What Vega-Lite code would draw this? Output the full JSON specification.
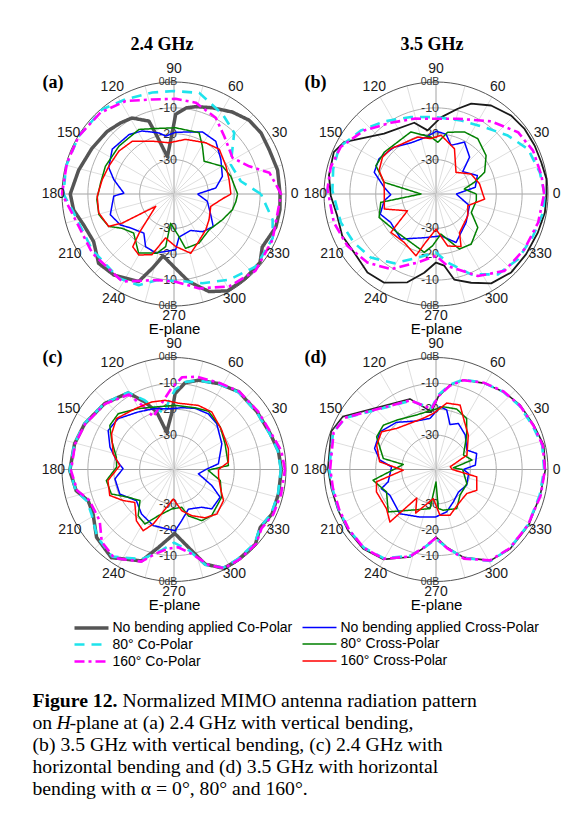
{
"$schema":"https://vega.github.io/schema/vega-lite/v6.json",
"background":"white",
"padding":{"left":32,"top":36,"right":0,"bottom":10},
"datasets":{
"spokes":[{"ang":0},{"ang":15},{"ang":30},{"ang":45},{"ang":60},{"ang":75},{"ang":90},{"ang":105},{"ang":120},{"ang":135},{"ang":150},{"ang":165},{"ang":180},{"ang":195},{"ang":210},{"ang":225},{"ang":240},{"ang":255},{"ang":270},{"ang":285},{"ang":300},{"ang":315},{"ang":330},{"ang":345}],
"rings":[{"db":0,"ang":[0,15,30,45,60,75,90,105,120,135,150,165,180,195,210,225,240,255,270,285,300,315,330,345]},{"db":-10,"ang":[0,15,30,45,60,75,90,105,120,135,150,165,180,195,210,225,240,255,270,285,300,315,330,345]},{"db":-20,"ang":[0,15,30,45,60,75,90,105,120,135,150,165,180,195,210,225,240,255,270,285,300,315,330,345]},{"db":-30,"ang":[0,15,30,45,60,75,90,105,120,135,150,165,180,195,210,225,240,255,270,285,300,315,330,345]}],
"radial":[{"db":0,"t":"0dB"},{"db":-10,"t":"-10"},{"db":-20,"t":"-20"},{"db":-30,"t":"-30"}],
"angles":[{"ang":0,"t":"0"},{"ang":30,"t":"30"},{"ang":60,"t":"60"},{"ang":90,"t":"90"},{"ang":120,"t":"120"},{"ang":150,"t":"150"},{"ang":180,"t":"180"},{"ang":210,"t":"210"},{"ang":240,"t":"240"},{"ang":270,"t":"270"},{"ang":300,"t":"300"},{"ang":330,"t":"330"}],
"series":[
{"p":"a","s":"No bending applied Co-Polar","ang":[0,13,25,35,44.5,54.5,66,76,82,88.8,91,100,107,109,119,127,137,151,166,180,189,199,210.6,222.6,233.4,248,253.7,260,271,279.7,289.8,299,310,321.5,329,342,351.6,360],"db":[-2.3,-2.2,-2.7,-2.2,-2.6,-4.4,-6.8,-8.5,-9.7,-12.5,-18.3,-28.7,-18.6,-13.5,-9.7,-8.9,-7.9,-7,-5.3,-3.2,-4,-6.4,-7.2,-3.7,-4.3,-6.8,-13.4,-19,-14.6,-8.9,-3.2,-0.5,-0.6,-0.8,-3.5,-1.9,-1.9,-2.3]},
{"p":"a","s":"80° Co-Polar","ang":[0,10.8,27.4,45.5,58.6,76,90,102,117,130.4,149,165.7,180,190.8,214.3,236.8,248.9,259,277.6,287.7,302.7,318.5,335.9,345.4,360],"db":[-9.7,-17,-18.6,-10.1,-7.2,-3,-3.5,-3.2,-2.2,-0.4,-0.2,-0.2,-0.6,-3.9,-5,-4.4,-5.5,-9.4,-9.2,-7.1,-3.9,-1,-1.5,-3.9,-9.7]},
{"p":"a","s":"160° Co-Polar","ang":[0,12.5,20.2,31.7,49,61.3,76.6,89,103,117.5,132,148.7,163.8,180,190.6,215.8,239.4,259,271,285,300.8,316.6,335,349.6,360],"db":[-1.9,-5.5,-12.3,-16.7,-13.7,-9.7,-7,-6.5,-5.8,-2.8,-0.9,-0.2,-0.2,0,-3.2,-4.3,-4,-9.4,-9.4,-5.5,-1.7,0,-1.3,-2.6,-1.9]},
{"p":"a","s":"No bending applied Cross-Polar","ang":[0,8.2,20,36.3,51.6,65.4,88.5,98,103.8,116.8,127,144,158,166.6,179,182,198,210,218,232.4,241.6,252.7,271.7,276.6,294.6,307.2,320.3,330.6,347.6,360],"db":[-34.2,-27,-23.4,-20.8,-17.3,-16.9,-19.4,-20.7,-19,-16,-14.5,-13.8,-16.1,-19.4,-23.9,-20,-17.4,-19.4,-22,-24.2,-20.2,-19.4,-21.7,-26.5,-27.8,-25,-23.6,-27,-30.1,-34.2]},
{"p":"a","s":"80° Cross-Polar","ang":[0,17.3,29.8,47.4,59.3,67.7,88.6,105.7,118.5,139,158,171.5,184,195.4,206.4,213.3,224,239,254,261,263.4,276.7,282,297,314.5,332,345,353,360],"db":[-18.7,-20.3,-21.7,-26.1,-21.8,-17.7,-17.7,-17,-14.9,-15.1,-14.7,-14.6,-13.4,-13.2,-15.1,-19.2,-21.6,-16.7,-19.5,-22.7,-31.9,-26.7,-21.8,-22,-23.9,-22.1,-19.9,-19.2,-18.7]},
{"p":"a","s":"160° Cross-Polar","ang":[0,14.6,28.2,44.6,58.2,77.9,95.6,112.4,128.4,142,157,168.7,181.7,194,206.4,209.3,214,228,232,240,250,259,271.8,285.8,295.5,311.6,323.7,341.4,354.5,360],"db":[-21.3,-21.3,-20.5,-18.7,-20,-21.7,-23.4,-21.2,-17.3,-16.3,-15.9,-15,-13.6,-13.3,-15.1,-20.3,-34.8,-23.4,-17.4,-16.1,-18.3,-26,-23,-19.5,-22.2,-24.8,-26.5,-28.3,-24.4,-21.3]},
{"p":"b","s":"No bending applied Co-Polar","ang":[0,7.8,16.8,26.2,36.3,46.2,58.1,68.7,75.7,86.3,97.5,107,130.7,150.6,157.7,170,181,192.4,204,215.5,228.9,239.7,252,261.5,270,276.6,282,291.6,301.7,313.8,326.3,339.3,350.4,360],"db":[-0.6,-0.2,-0.8,-0.8,-0.8,-1.3,-3,-5.8,-9.3,-13.6,-18.5,-14.5,-12.5,-2.5,-0.6,-1.3,-2.6,-4.2,-3.6,-4.4,-3,-3.6,-7.4,-12.5,-16.8,-15.4,-9.5,-6.4,-2.7,-1.3,-1.4,-1.2,-0.6,-0.6]},
{"p":"b","s":"80° Co-Polar","ang":[0,11.8,26,39.1,54,71.2,90,108,125.5,139.8,154.2,166.3,178,196.6,210.6,224.3,238.9,253.9,270,279.7,293.6,307.6,321.5,336.7,350.2,360],"db":[-1.3,-2.3,-3.7,-7.5,-11.4,-13.3,-13.6,-12,-8.8,-5.3,-1.7,-2.4,-3.2,-4.9,-6.4,-8.1,-12,-17.7,-20.7,-16.4,-9.4,-4.1,-2.8,-2.4,-1.3,-1.3]},
{"p":"b","s":"160° Co-Polar","ang":[0,9.9,24.1,37,52.7,73.9,90,106,122.4,138.5,153.8,165.7,177.4,195.6,210.3,225,239,255,270,279.2,297,311.7,328,344.4,360],"db":[-1.5,-1.9,-2.2,-3.6,-8,-13,-14.2,-13,-10.7,-6.2,-2.2,-1.3,-1.3,-2.3,-3.6,-5.8,-9.4,-15.9,-19.4,-15.1,-7.7,-3.5,-3,-2.3,-1.5]},
{"p":"b","s":"No bending applied Cross-Polar","ang":[0,9.7,24,40,47.7,61.3,72.8,80.5,90,100,116,131.8,148.3,160.6,172.6,181,187.4,199.8,212,232,255,276.8,292.5,316.6,340.7,360],"db":[-35.5,-27.9,-25.8,-29.8,-24,-20.4,-23.6,-19.8,-19.1,-21,-21.3,-19,-17.4,-18,-23.1,-25.8,-23.1,-20.4,-22.6,-21.2,-25.8,-27,-23,-27.3,-29.6,-35.5]},
{"p":"b","s":"80° Cross-Polar","ang":[0,10,17,24.1,37.5,52.9,65.3,79.3,88,95,112,141,154.7,167.3,180,188.6,202.4,225,242.6,258.7,266.3,277,293,305,321.3,332.4,350.5,360],"db":[-27.7,-32.2,-27.8,-22.7,-18.9,-16.5,-16.9,-19,-23.3,-21.2,-17.4,-17.6,-17.6,-22.7,-37.5,-21.7,-19.5,-22.2,-22.2,-20.3,-23.3,-27.7,-20.2,-19.6,-22.6,-27.9,-27.5,-27.7]},
{"p":"b","s":"160° Cross-Polar","ang":[0,13,29.7,47.3,67.8,85,95.2,108,135,145.5,157.6,167.3,178,196.2,210.5,220.4,236.8,252,256.9,270,282.7,295.5,301.3,325.6,339.8,354,360],"db":[-25.2,-26,-27.7,-31.9,-24.4,-20.5,-21.8,-20.2,-18.6,-18.2,-19.5,-22.7,-23.3,-22.5,-30.5,-20.4,-20.9,-18.2,-23.4,-29.7,-22.7,-20.8,-25.8,-28.4,-30.2,-24.4,-25.2]},
{"p":"c","s":"No bending applied Co-Polar","ang":[0,10,20.4,34.7,50.2,62.6,74.7,82.7,89.2,92.4,101.1,106.8,113.3,120.9,136.4,152.8,165.5,180.6,192.2,200,208.8,221.2,234.6,250.4,258.6,270.6,280.5,288.2,296.8,305.6,317.5,326,335.6,346.9,360],"db":[-1.8,-2.3,-3.6,-4.2,-4.2,-5.9,-7.5,-9.5,-14,-21.7,-28.6,-20,-14.9,-8.8,-6.3,-4.5,-3.6,-3,-4.6,-8,-7.6,-3.5,-1.5,-5.8,-12.5,-18.6,-12.7,-4.8,-0.5,-0.5,-0.6,-3.1,-1.7,-1.8,-1.8]},
{"p":"c","s":"80° Co-Polar","ang":[0,10,20.4,34.7,50.2,62.6,74.7,82.7,89.2,94,100,106.8,113.3,120.9,136.4,152.8,165.5,180.6,192.2,200,208.8,221.2,234.6,250.4,262,270,280.5,288.2,296.8,305.6,317.5,326,335.6,346.9,360],"db":[-2,-2.5,-3.8,-4.4,-4.4,-6,-7.6,-9.2,-12.5,-16.5,-21.3,-18.5,-14,-8.6,-6.2,-4.4,-3.5,-3,-4.5,-7.5,-7,-3.8,-2,-6.5,-12,-15,-11.5,-4.5,-0.8,-0.8,-1,-3.2,-2,-2,-2]},
{"p":"c","s":"160° Co-Polar","ang":[0,10,20.4,34.7,50.2,62.6,76.2,85,92,100,111.5,116,121,136.4,152.8,165.5,180.6,192.2,200,214.6,225,236,250.4,257.3,265,273,281.8,290,297,306,318,326,335.6,346.9,360],"db":[-0.4,-1.2,-3.2,-3.8,-4,-5.5,-6.4,-7.5,-12,-17,-21.4,-16,-9.5,-6.5,-4.7,-3.8,-3.5,-5,-8.5,-8.4,-3.8,-2,-5.5,-9.8,-12.5,-13.2,-10,-4,-0.5,-0.3,-0.5,-2.5,-1.2,-0.8,-0.4]},
{"p":"c","s":"No bending applied Cross-Polar","ang":[0,7.3,28.3,47,58.3,70.9,82.9,92.2,107.4,121.9,137.7,149.3,160.8,171,179,189,204.3,219.7,233.9,249.7,271,278.5,290,306.3,313.8,329,337,350,360],"db":[-31,-26,-22.3,-19.1,-18,-18.3,-19.2,-19.8,-18.6,-17.1,-14.1,-13.7,-17.1,-20.8,-23.6,-20.2,-20.3,-24.4,-22,-20.2,-19.6,-23.3,-27,-25.2,-22.2,-22.5,-27.4,-33.7,-31]},
{"p":"c","s":"80° Cross-Polar","ang":[0,4.2,26.7,42.6,59.5,71.2,89,104,120.4,135,145.5,155,167.9,177.7,189.3,201.3,211.2,222.4,232.2,241.9,251.2,266.6,281.5,287.3,298.5,309.3,329.9,346.6,358.3,360],"db":[-29,-22.2,-21.2,-19,-17.1,-18.1,-18.5,-18.3,-16,-12.8,-13.2,-16.7,-20.5,-21.1,-16.8,-17.3,-22.6,-25.5,-20.7,-19.4,-24.4,-28,-28.4,-24.5,-20.8,-20.3,-22,-24.9,-30,-29]},
{"p":"c","s":"160° Cross-Polar","ang":[0,7.7,20.8,39.3,56.7,69.2,86.3,97.4,108.3,122.7,138.5,150.2,165.5,175.8,189.5,202,211.5,220,233.8,243.3,249.2,268.7,280.6,291,302.7,313.9,327.9,335.9,350.2,360],"db":[-26.1,-22.1,-20.8,-19.4,-16.7,-16.8,-17.6,-16.3,-15.8,-15.4,-13.6,-15.5,-19,-22.3,-17.4,-16.5,-20.3,-23.5,-18.7,-16.8,-20.8,-31.9,-27.1,-24.2,-21.1,-19.4,-20.7,-23.4,-25.8,-26.1]},
{"p":"d","s":"No bending applied Co-Polar","ang":[0,12.8,24.5,37.4,49.1,61.2,73,80.6,88.2,94.3,110.3,150.4,160.1,179.5,190.3,202.6,214.7,227.4,239.6,253.4,261.9,270,277.9,287.4,300.8,313.1,328.9,346.1,360],"db":[-1,-0.6,-1.8,-2.3,-3.5,-5.2,-7.1,-10.2,-15.1,-20.9,-14.2,-1.9,-0.2,-1.5,-2.2,-2.3,-1.9,-1.7,-3,-8,-13,-17.2,-13,-7.7,-2.3,-1.3,-1.5,-1.8,-1]},
{"p":"d","s":"80° Co-Polar","ang":[0,12.8,24.5,37.4,49.1,61.2,73,80.6,88.2,94.3,110.3,150.4,160.1,179.5,190.3,202.6,214.7,227.4,239.6,253.4,261.9,270,277.9,287.4,300.8,313.1,328.9,346.1,360],"db":[-1.5,-1.2,-2.3,-2.7,-3.6,-5,-7,-10,-14.5,-19.5,-15,-3,-1,-2,-2.6,-2.6,-2.3,-2.2,-3.5,-8.5,-13,-16.5,-12.8,-7.5,-2.1,-1.6,-1.8,-2,-1.5]},
{"p":"d","s":"160° Co-Polar","ang":[0,12.8,24.5,37.4,49.1,61.2,73,80.6,88.2,94.3,110.3,150.4,160.1,179.5,190.3,202.6,214.7,227.4,239.6,253.4,261.9,270,277.9,287.4,300.8,313.1,328.9,346.1,360],"db":[-1.2,-1,-2,-2.5,-3.4,-5,-7.2,-10.5,-15,-19.8,-14.8,-2.8,-1.2,-2.4,-2.8,-2.8,-2.4,-2.1,-3.3,-8.2,-13.2,-16.8,-12.6,-7.2,-2.4,-1.6,-1.8,-1.6,-1.2]},
{"p":"d","s":"No bending applied Cross-Polar","ang":[0,6.3,21.5,32.2,49.8,64.1,72.7,79.8,86.3,96.7,111.8,130,146.1,161,170.5,176.6,194.5,199.3,209.2,230.7,251.3,269.2,284.1,298.2,315,333,353,360],"db":[-32.7,-28,-26.4,-29.2,-25.8,-23.5,-25.1,-19.9,-19,-23.4,-23.1,-19.5,-17.2,-18.2,-21.3,-26.1,-24.2,-20.9,-22.9,-21.2,-23.9,-24.9,-26.4,-29.1,-31,-30,-30.6,-32.7]},
{"p":"d","s":"80° Cross-Polar","ang":[0,5.5,14.7,27.7,48.2,59,71.1,83.3,95.9,109.6,128.6,139.9,151.2,168.2,171.3,189.7,204.4,221.6,237.4,261.3,270,273.4,280.2,297.9,313.1,335.5,360],"db":[-33,-36.6,-28.9,-31.3,-25.5,-20.3,-18.6,-18.9,-20.5,-20.9,-18.9,-16.7,-17.1,-22.5,-30.5,-18.6,-22.3,-18.6,-24.6,-28,-38.5,-28.2,-27.3,-26.2,-29.7,-30.2,-33]},
{"p":"d","s":"160° Cross-Polar","ang":[0,10.8,25,46.7,61.8,69.5,80.8,92.7,104,133.8,145.3,157.7,172.2,181.2,191.7,200.6,218.3,228.7,236,245,264.7,275,287,303.3,322,333,349.8,360],"db":[-37,-37.7,-30.1,-25.1,-20.8,-16.7,-17.3,-21.6,-22.9,-21.3,-17.7,-18.5,-21.3,-30.6,-19.8,-18.7,-18.9,-16.3,-30,-24.7,-32,-25.5,-24.8,-27.5,-28.2,-25.6,-27.3,-37]}
]
},
"vconcat":[
{"concat":[
{"width":240,"height":240,
"title":{"text":"2.4 GHz","anchor":"middle","frame":"group","dx":-12,"offset":-6.4,"baseline":"alphabetic","font":"Liberation Serif","fontSize":18,"fontWeight":"bold","color":"black"},
"layer":[
{"data":{"name":"spokes"},"transform":[{"calculate":"43.3*cos(datum.ang*PI/180)","as":"x"},{"calculate":"43.3*sin(datum.ang*PI/180)","as":"y"}],"mark":{"type":"rule","strokeWidth":0.8},"encoding":{"x":{"field":"x","type":"quantitative","scale":{"domain":[-46.39,46.39],"nice":false,"zero":false},"title":"E-plane"},"y":{"field":"y","type":"quantitative","scale":{"domain":[-46.39,46.39],"nice":false,"zero":false},"title":"(a)"},"x2":{"datum":0},"y2":{"datum":0},"stroke":{"condition":{"test":"datum.ang % 90 == 0","value":"#8a8a8a"},"value":"#d6d6d6"}}},
{"data":{"name":"rings"},"transform":[{"flatten":["ang"]},{"calculate":"(datum.db + 43.3)*cos(datum.ang*PI/180)","as":"x"},{"calculate":"(datum.db + 43.3)*sin(datum.ang*PI/180)","as":"y"}],"mark":{"type":"line","interpolate":"cardinal-closed","strokeWidth":1},"encoding":{"x":{"field":"x","type":"quantitative","title":"E-plane"},"y":{"field":"y","type":"quantitative","title":"(a)"},"detail":{"field":"db","type":"nominal"},"order":{"field":"ang","type":"quantitative"},"stroke":{"condition":{"test":"datum.db == 0","value":"#555555"},"value":"#b0b0b0"}}},
{"data":{"name":"radial"},"transform":[{"calculate":"datum.db + 43.3","as":"y"}],"mark":{"type":"text","font":"Liberation Sans","fill":"#333333","dx":-6},"encoding":{"x":{"datum":0,"type":"quantitative"},"y":{"field":"y","type":"quantitative","title":"(a)"},"text":{"field":"t"},"size":{"condition":{"test":"datum.db == 0","value":10.5},"value":12.5}}},
{"data":{"name":"radial"},"transform":[{"calculate":"-(datum.db + 43.3)","as":"y"}],"mark":{"type":"text","font":"Liberation Sans","fill":"#333333","dx":-6},"encoding":{"x":{"datum":0,"type":"quantitative"},"y":{"field":"y","type":"quantitative","title":"(a)"},"text":{"field":"t"},"size":{"condition":{"test":"datum.db == 0","value":10.5},"value":12.5}}},
{"data":{"name":"series"},"transform":[{"filter":"datum.p == 'a'"},{"flatten":["ang","db"]},{"calculate":"datum.db + 43.3","as":"r"},{"calculate":"datum.r*cos(datum.ang*PI/180)","as":"x"},{"calculate":"datum.r*sin(datum.ang*PI/180)","as":"y"}],"mark":{"type":"line","strokeJoin":"round"},"encoding":{"x":{"field":"x","type":"quantitative","title":"E-plane"},"y":{"field":"y","type":"quantitative","title":"(a)"},"order":{"field":"ang","type":"quantitative"},
"color":{"field":"s","type":"nominal","scale":{"domain":["No bending applied Co-Polar","80° Co-Polar","160° Co-Polar","No bending applied Cross-Polar","80° Cross-Polar","160° Cross-Polar"],"range":["#555555","#1ee3ec","#ff00ff","#0000ff","#008000","#ff0000"]},"legend":{"orient":"none","legendX":18.5,"legendY":545,"columns":2,"title":null,"symbolType":"M-1,0H3.857","symbolSize":196,"labelFont":"Liberation Sans","labelFontSize":14,"labelColor":"black","labelOffset":22,"columnPadding":7,"rowPadding":1,"labelLimit":400,"padding":0}},
"strokeDash":{"field":"s","type":"nominal","scale":{"type":"ordinal","domain":["No bending applied Co-Polar","80° Co-Polar","160° Co-Polar","No bending applied Cross-Polar","80° Cross-Polar","160° Cross-Polar"],"range":[[1,0],[10,7],[10,4,3,4],[1,0],[1,0],[1,0]]},"legend":{"orient":"none","legendX":18.5,"legendY":545,"columns":2,"title":null,"symbolType":"M-1,0H3.857","symbolSize":196,"labelFont":"Liberation Sans","labelFontSize":14,"labelColor":"black","labelOffset":22,"columnPadding":7,"rowPadding":1,"labelLimit":400,"padding":0}},
"strokeWidth":{"field":"s","type":"nominal","scale":{"type":"ordinal","domain":["No bending applied Co-Polar","80° Co-Polar","160° Co-Polar","No bending applied Cross-Polar","80° Cross-Polar","160° Cross-Polar"],"range":[3.5,2.6,2.6,1.5,1.5,1.5]},"legend":{"orient":"none","legendX":18.5,"legendY":545,"columns":2,"title":null,"symbolType":"M-1,0H3.857","symbolSize":196,"labelFont":"Liberation Sans","labelFontSize":14,"labelColor":"black","labelOffset":22,"columnPadding":7,"rowPadding":1,"labelLimit":400,"padding":0}}}},
{"data":{"name":"angles"},"transform":[{"calculate":"47.8 - 1.2*abs(cos(datum.ang*PI/180)) + 0.6*sin(datum.ang*PI/180)","as":"lr"},{"calculate":"datum.lr*cos(datum.ang*PI/180)","as":"x"},{"calculate":"datum.lr*sin(datum.ang*PI/180)","as":"y"}],"mark":{"type":"text","font":"Liberation Sans","fontSize":14,"fill":"#1a1a1a"},"encoding":{"x":{"field":"x","type":"quantitative","title":"E-plane"},"y":{"field":"y","type":"quantitative","title":"(a)"},"text":{"field":"t"}}}
]},
{"width":240,"height":240,
"title":{"text":"3.5 GHz","anchor":"middle","frame":"group","dx":-4,"offset":-6.4,"baseline":"alphabetic","font":"Liberation Serif","fontSize":18,"fontWeight":"bold","color":"black"},
"layer":[
{"data":{"name":"spokes"},"transform":[{"calculate":"43.3*cos(datum.ang*PI/180)","as":"x"},{"calculate":"43.3*sin(datum.ang*PI/180)","as":"y"}],"mark":{"type":"rule","strokeWidth":0.8},"encoding":{"x":{"field":"x","type":"quantitative","scale":{"domain":[-46.39,46.39],"nice":false,"zero":false},"title":"E-plane"},"y":{"field":"y","type":"quantitative","scale":{"domain":[-46.39,46.39],"nice":false,"zero":false},"title":"(b)"},"x2":{"datum":0},"y2":{"datum":0},"stroke":{"condition":{"test":"datum.ang % 90 == 0","value":"#8a8a8a"},"value":"#d6d6d6"}}},
{"data":{"name":"rings"},"transform":[{"flatten":["ang"]},{"calculate":"(datum.db + 43.3)*cos(datum.ang*PI/180)","as":"x"},{"calculate":"(datum.db + 43.3)*sin(datum.ang*PI/180)","as":"y"}],"mark":{"type":"line","interpolate":"cardinal-closed","strokeWidth":1},"encoding":{"x":{"field":"x","type":"quantitative","title":"E-plane"},"y":{"field":"y","type":"quantitative","title":"(b)"},"detail":{"field":"db","type":"nominal"},"order":{"field":"ang","type":"quantitative"},"stroke":{"condition":{"test":"datum.db == 0","value":"#555555"},"value":"#b0b0b0"}}},
{"data":{"name":"radial"},"transform":[{"calculate":"datum.db + 43.3","as":"y"}],"mark":{"type":"text","font":"Liberation Sans","fill":"#333333","dx":-6},"encoding":{"x":{"datum":0,"type":"quantitative"},"y":{"field":"y","type":"quantitative","title":"(b)"},"text":{"field":"t"},"size":{"condition":{"test":"datum.db == 0","value":10.5},"value":12.5}}},
{"data":{"name":"radial"},"transform":[{"calculate":"-(datum.db + 43.3)","as":"y"}],"mark":{"type":"text","font":"Liberation Sans","fill":"#333333","dx":-6},"encoding":{"x":{"datum":0,"type":"quantitative"},"y":{"field":"y","type":"quantitative","title":"(b)"},"text":{"field":"t"},"size":{"condition":{"test":"datum.db == 0","value":10.5},"value":12.5}}},
{"data":{"name":"series"},"transform":[{"filter":"datum.p == 'b' && datum.s == 'No bending applied Co-Polar'"},{"flatten":["ang","db"]},{"calculate":"datum.db + 43.3","as":"r"},{"calculate":"datum.r*cos(datum.ang*PI/180)","as":"x"},{"calculate":"datum.r*sin(datum.ang*PI/180)","as":"y"}],"mark":{"type":"line","strokeJoin":"round","stroke":"#1a1a1a","strokeWidth":1.8},"encoding":{"x":{"field":"x","type":"quantitative","title":"E-plane"},"y":{"field":"y","type":"quantitative","title":"(b)"},"order":{"field":"ang","type":"quantitative"}}},
{"data":{"name":"series"},"transform":[{"filter":"datum.p == 'b' && datum.s != 'No bending applied Co-Polar'"},{"flatten":["ang","db"]},{"calculate":"datum.db + 43.3","as":"r"},{"calculate":"datum.r*cos(datum.ang*PI/180)","as":"x"},{"calculate":"datum.r*sin(datum.ang*PI/180)","as":"y"}],"mark":{"type":"line","strokeJoin":"round"},"encoding":{"x":{"field":"x","type":"quantitative","title":"E-plane"},"y":{"field":"y","type":"quantitative","title":"(b)"},"order":{"field":"ang","type":"quantitative"},
"color":{"field":"s","type":"nominal","scale":{"domain":["No bending applied Co-Polar","80° Co-Polar","160° Co-Polar","No bending applied Cross-Polar","80° Cross-Polar","160° Cross-Polar"],"range":["#555555","#1ee3ec","#ff00ff","#0000ff","#008000","#ff0000"]}},
"strokeDash":{"field":"s","type":"nominal","scale":{"type":"ordinal","domain":["No bending applied Co-Polar","80° Co-Polar","160° Co-Polar","No bending applied Cross-Polar","80° Cross-Polar","160° Cross-Polar"],"range":[[1,0],[10,7],[10,4,3,4],[1,0],[1,0],[1,0]]}},
"strokeWidth":{"field":"s","type":"nominal","scale":{"type":"ordinal","domain":["No bending applied Co-Polar","80° Co-Polar","160° Co-Polar","No bending applied Cross-Polar","80° Cross-Polar","160° Cross-Polar"],"range":[3.5,2.6,2.6,1.5,1.5,1.5]}}}},
{"data":{"name":"angles"},"transform":[{"calculate":"47.8 - 1.2*abs(cos(datum.ang*PI/180)) + 0.6*sin(datum.ang*PI/180)","as":"lr"},{"calculate":"datum.lr*cos(datum.ang*PI/180)","as":"x"},{"calculate":"datum.lr*sin(datum.ang*PI/180)","as":"y"}],"mark":{"type":"text","font":"Liberation Sans","fontSize":14,"fill":"#1a1a1a"},"encoding":{"x":{"field":"x","type":"quantitative","title":"E-plane"},"y":{"field":"y","type":"quantitative","title":"(b)"},"text":{"field":"t"}}}
]},
{"width":240,"height":240,
"layer":[
{"data":{"name":"spokes"},"transform":[{"calculate":"43.3*cos(datum.ang*PI/180)","as":"x"},{"calculate":"43.3*sin(datum.ang*PI/180)","as":"y"}],"mark":{"type":"rule","strokeWidth":0.8},"encoding":{"x":{"field":"x","type":"quantitative","scale":{"domain":[-46.39,46.39],"nice":false,"zero":false},"title":"E-plane"},"y":{"field":"y","type":"quantitative","scale":{"domain":[-46.39,46.39],"nice":false,"zero":false},"title":"(c)"},"x2":{"datum":0},"y2":{"datum":0},"stroke":{"condition":{"test":"datum.ang % 90 == 0","value":"#8a8a8a"},"value":"#d6d6d6"}}},
{"data":{"name":"rings"},"transform":[{"flatten":["ang"]},{"calculate":"(datum.db + 43.3)*cos(datum.ang*PI/180)","as":"x"},{"calculate":"(datum.db + 43.3)*sin(datum.ang*PI/180)","as":"y"}],"mark":{"type":"line","interpolate":"cardinal-closed","strokeWidth":1},"encoding":{"x":{"field":"x","type":"quantitative","title":"E-plane"},"y":{"field":"y","type":"quantitative","title":"(c)"},"detail":{"field":"db","type":"nominal"},"order":{"field":"ang","type":"quantitative"},"stroke":{"condition":{"test":"datum.db == 0","value":"#555555"},"value":"#b0b0b0"}}},
{"data":{"name":"radial"},"transform":[{"calculate":"datum.db + 43.3","as":"y"}],"mark":{"type":"text","font":"Liberation Sans","fill":"#333333","dx":-6},"encoding":{"x":{"datum":0,"type":"quantitative"},"y":{"field":"y","type":"quantitative","title":"(c)"},"text":{"field":"t"},"size":{"condition":{"test":"datum.db == 0","value":10.5},"value":12.5}}},
{"data":{"name":"radial"},"transform":[{"calculate":"-(datum.db + 43.3)","as":"y"}],"mark":{"type":"text","font":"Liberation Sans","fill":"#333333","dx":-6},"encoding":{"x":{"datum":0,"type":"quantitative"},"y":{"field":"y","type":"quantitative","title":"(c)"},"text":{"field":"t"},"size":{"condition":{"test":"datum.db == 0","value":10.5},"value":12.5}}},
{"data":{"name":"series"},"transform":[{"filter":"datum.p == 'c'"},{"flatten":["ang","db"]},{"calculate":"datum.db + 43.3","as":"r"},{"calculate":"datum.r*cos(datum.ang*PI/180)","as":"x"},{"calculate":"datum.r*sin(datum.ang*PI/180)","as":"y"}],"mark":{"type":"line","strokeJoin":"round"},"encoding":{"x":{"field":"x","type":"quantitative","title":"E-plane"},"y":{"field":"y","type":"quantitative","title":"(c)"},"order":{"field":"ang","type":"quantitative"},
"color":{"field":"s","type":"nominal","scale":{"domain":["No bending applied Co-Polar","80° Co-Polar","160° Co-Polar","No bending applied Cross-Polar","80° Cross-Polar","160° Cross-Polar"],"range":["#555555","#1ee3ec","#ff00ff","#0000ff","#008000","#ff0000"]}},
"strokeDash":{"field":"s","type":"nominal","scale":{"type":"ordinal","domain":["No bending applied Co-Polar","80° Co-Polar","160° Co-Polar","No bending applied Cross-Polar","80° Cross-Polar","160° Cross-Polar"],"range":[[1,0],[10,7],[10,4,3,4],[1,0],[1,0],[1,0]]}},
"strokeWidth":{"field":"s","type":"nominal","scale":{"type":"ordinal","domain":["No bending applied Co-Polar","80° Co-Polar","160° Co-Polar","No bending applied Cross-Polar","80° Cross-Polar","160° Cross-Polar"],"range":[3.5,2.6,2.6,1.5,1.5,1.5]}}}},
{"data":{"name":"angles"},"transform":[{"calculate":"47.8 - 1.2*abs(cos(datum.ang*PI/180)) + 0.6*sin(datum.ang*PI/180)","as":"lr"},{"calculate":"datum.lr*cos(datum.ang*PI/180)","as":"x"},{"calculate":"datum.lr*sin(datum.ang*PI/180)","as":"y"}],"mark":{"type":"text","font":"Liberation Sans","fontSize":14,"fill":"#1a1a1a"},"encoding":{"x":{"field":"x","type":"quantitative","title":"E-plane"},"y":{"field":"y","type":"quantitative","title":"(c)"},"text":{"field":"t"}}}
]},
{"width":240,"height":240,
"layer":[
{"data":{"name":"spokes"},"transform":[{"calculate":"43.3*cos(datum.ang*PI/180)","as":"x"},{"calculate":"43.3*sin(datum.ang*PI/180)","as":"y"}],"mark":{"type":"rule","strokeWidth":0.8},"encoding":{"x":{"field":"x","type":"quantitative","scale":{"domain":[-46.39,46.39],"nice":false,"zero":false},"title":"E-plane"},"y":{"field":"y","type":"quantitative","scale":{"domain":[-46.39,46.39],"nice":false,"zero":false},"title":"(d)"},"x2":{"datum":0},"y2":{"datum":0},"stroke":{"condition":{"test":"datum.ang % 90 == 0","value":"#8a8a8a"},"value":"#d6d6d6"}}},
{"data":{"name":"rings"},"transform":[{"flatten":["ang"]},{"calculate":"(datum.db + 43.3)*cos(datum.ang*PI/180)","as":"x"},{"calculate":"(datum.db + 43.3)*sin(datum.ang*PI/180)","as":"y"}],"mark":{"type":"line","interpolate":"cardinal-closed","strokeWidth":1},"encoding":{"x":{"field":"x","type":"quantitative","title":"E-plane"},"y":{"field":"y","type":"quantitative","title":"(d)"},"detail":{"field":"db","type":"nominal"},"order":{"field":"ang","type":"quantitative"},"stroke":{"condition":{"test":"datum.db == 0","value":"#555555"},"value":"#b0b0b0"}}},
{"data":{"name":"radial"},"transform":[{"calculate":"datum.db + 43.3","as":"y"}],"mark":{"type":"text","font":"Liberation Sans","fill":"#333333","dx":-6},"encoding":{"x":{"datum":0,"type":"quantitative"},"y":{"field":"y","type":"quantitative","title":"(d)"},"text":{"field":"t"},"size":{"condition":{"test":"datum.db == 0","value":10.5},"value":12.5}}},
{"data":{"name":"radial"},"transform":[{"calculate":"-(datum.db + 43.3)","as":"y"}],"mark":{"type":"text","font":"Liberation Sans","fill":"#333333","dx":-6},"encoding":{"x":{"datum":0,"type":"quantitative"},"y":{"field":"y","type":"quantitative","title":"(d)"},"text":{"field":"t"},"size":{"condition":{"test":"datum.db == 0","value":10.5},"value":12.5}}},
{"data":{"name":"series"},"transform":[{"filter":"datum.p == 'd' && datum.s == 'No bending applied Co-Polar'"},{"flatten":["ang","db"]},{"calculate":"datum.db + 43.3","as":"r"},{"calculate":"datum.r*cos(datum.ang*PI/180)","as":"x"},{"calculate":"datum.r*sin(datum.ang*PI/180)","as":"y"}],"mark":{"type":"line","strokeJoin":"round","stroke":"#2a2a2a","strokeWidth":1.6},"encoding":{"x":{"field":"x","type":"quantitative","title":"E-plane"},"y":{"field":"y","type":"quantitative","title":"(d)"},"order":{"field":"ang","type":"quantitative"}}},
{"data":{"name":"series"},"transform":[{"filter":"datum.p == 'd' && datum.s != 'No bending applied Co-Polar'"},{"flatten":["ang","db"]},{"calculate":"datum.db + 43.3","as":"r"},{"calculate":"datum.r*cos(datum.ang*PI/180)","as":"x"},{"calculate":"datum.r*sin(datum.ang*PI/180)","as":"y"}],"mark":{"type":"line","strokeJoin":"round"},"encoding":{"x":{"field":"x","type":"quantitative","title":"E-plane"},"y":{"field":"y","type":"quantitative","title":"(d)"},"order":{"field":"ang","type":"quantitative"},
"color":{"field":"s","type":"nominal","scale":{"domain":["No bending applied Co-Polar","80° Co-Polar","160° Co-Polar","No bending applied Cross-Polar","80° Cross-Polar","160° Cross-Polar"],"range":["#555555","#1ee3ec","#ff00ff","#0000ff","#008000","#ff0000"]}},
"strokeDash":{"field":"s","type":"nominal","scale":{"type":"ordinal","domain":["No bending applied Co-Polar","80° Co-Polar","160° Co-Polar","No bending applied Cross-Polar","80° Cross-Polar","160° Cross-Polar"],"range":[[1,0],[10,7],[10,4,3,4],[1,0],[1,0],[1,0]]}},
"strokeWidth":{"field":"s","type":"nominal","scale":{"type":"ordinal","domain":["No bending applied Co-Polar","80° Co-Polar","160° Co-Polar","No bending applied Cross-Polar","80° Cross-Polar","160° Cross-Polar"],"range":[3.5,2.6,2.6,1.5,1.5,1.5]}}}},
{"data":{"name":"angles"},"transform":[{"calculate":"47.8 - 1.2*abs(cos(datum.ang*PI/180)) + 0.6*sin(datum.ang*PI/180)","as":"lr"},{"calculate":"datum.lr*cos(datum.ang*PI/180)","as":"x"},{"calculate":"datum.lr*sin(datum.ang*PI/180)","as":"y"}],"mark":{"type":"text","font":"Liberation Sans","fontSize":14,"fill":"#1a1a1a"},"encoding":{"x":{"field":"x","type":"quantitative","title":"E-plane"},"y":{"field":"y","type":"quantitative","title":"(d)"},"text":{"field":"t"}}}
]}
],"columns":2,"spacing":{"row":35.5,"column":22},"bounds":"flush"},
{"width":1,"height":88,
"layer":[
{"data":{"values":[{"line":1,"t":"Figure 12."}]},"mark":{"type":"text","align":"left","baseline":"middle","font":"Liberation Serif","fontSize":19.7,"fontWeight":"bold","fill":"black","dx":-22},"encoding":{"y":{"field":"line","type":"quantitative","scale":{"domain":[1,5],"reverse":true,"nice":false,"zero":false},"axis":null},"text":{"field":"t"}}},
{"data":{"values":[{"line":1,"t":"Normalized MIMO antenna radiation pattern"}]},"mark":{"type":"text","align":"left","baseline":"middle","font":"Liberation Serif","fontSize":19.7,"fill":"black","dx":68},"encoding":{"y":{"field":"line","type":"quantitative","axis":null},"text":{"field":"t"}}},
{"data":{"values":[{"line":2,"t":"on"},{"line":3,"t":"(b) 3.5 GHz with vertical bending, (c) 2.4 GHz with"},{"line":4,"t":"horizontal bending and (d) 3.5 GHz with horizontal"},{"line":5,"t":"bending with α = 0°, 80° and 160°."}]},"mark":{"type":"text","align":"left","baseline":"middle","font":"Liberation Serif","fontSize":19.7,"fill":"black","dx":-22},"encoding":{"y":{"field":"line","type":"quantitative","axis":null},"text":{"field":"t"}}},
{"data":{"values":[{"line":2,"t":"H"}]},"mark":{"type":"text","align":"left","baseline":"middle","font":"Liberation Serif","fontSize":19.7,"fontStyle":"italic","fill":"black","dx":2},"encoding":{"y":{"field":"line","type":"quantitative","axis":null},"text":{"field":"t"}}},
{"data":{"values":[{"line":2,"t":"-plane at (a) 2.4 GHz with vertical bending,"}]},"mark":{"type":"text","align":"left","baseline":"middle","font":"Liberation Serif","fontSize":19.7,"fill":"black","dx":15},"encoding":{"y":{"field":"line","type":"quantitative","axis":null},"text":{"field":"t"}}}
]}
],
"spacing":79,
"config":{
"view":{"stroke":null},
"axisX":{"domain":false,"ticks":false,"labels":false,"grid":false,"titleFont":"Liberation Sans","titleFontSize":15,"titleFontWeight":"normal","titleColor":"black","titlePadding":7.5},
"axisY":{"domain":false,"ticks":false,"labels":false,"grid":false,"titleFont":"Liberation Serif","titleFontSize":18,"titleFontWeight":"bold","titleColor":"black","titleAngle":0,"titleAlign":"left","titleBaseline":"alphabetic","titleX":-12,"titleY":13},
"text":{"font":"Liberation Sans"}
}
}
